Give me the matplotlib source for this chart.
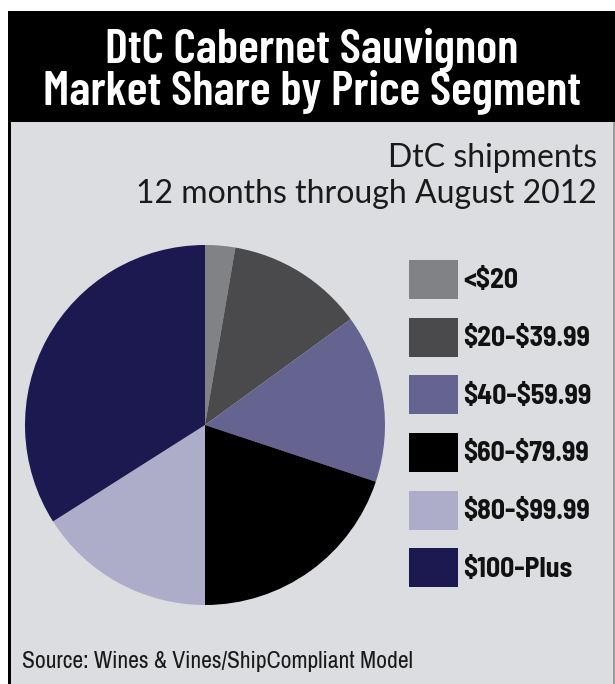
import matplotlib
matplotlib.use('Agg')
import matplotlib.pyplot as plt
from matplotlib.patches import Rectangle

plt.rcParams['text.parse_math'] = False

# shares (percent, clockwise from 12 o'clock)
segments = ['<$20', '$20-$39.99', '$40-$59.99', '$60-$79.99', '$80-$99.99', '$100-Plus']
shares = [2.7, 12.3, 15.1, 19.9, 16.0, 34.0]
colors = ['#808285', '#4a4a4c', '#65638f', '#000000', '#adadca', '#1c1850']

title1 = 'DtC Cabernet Sauvignon'
title2 = 'Market Share by Price Segment'
sub1 = 'DtC shipments'
sub2 = '12 months through August 2012'
source = 'Source: Wines & Vines/ShipCompliant Model'

cond = ['Barlow Condensed', 'Archivo Narrow', 'DejaVu Sans']
semi = ['Barlow Semi Condensed', 'Barlow Condensed', 'DejaVu Sans']
narrow = ['Archivo Narrow', 'Barlow Semi Condensed', 'DejaVu Sans']
W, H = 615, 684
fig = plt.figure(figsize=(W / 100, H / 100), dpi=100)
fig.patch.set_facecolor('white')

# background frame in pixel coords
bg = fig.add_axes([0, 0, 1, 1])
bg.set_xlim(0, W)
bg.set_ylim(H, 0)
bg.axis('off')
bg.add_patch(Rectangle((8, 11), W - 8, H - 11, facecolor='black', edgecolor='none'))
bg.add_patch(Rectangle((11, 122), 602, H - 122, facecolor='#dcdde0', edgecolor='none'))
bg.add_patch(Rectangle((613, 122), 2, H - 122, facecolor='#9a9a9a', edgecolor='none'))

bg.text(312, 62, title1, color='white', fontsize=35, fontweight=600,
        family=cond, ha='center', va='baseline')
bg.text(312, 104, title2, color='white', fontsize=35, fontweight=600,
        family=cond, ha='center', va='baseline')
bg.text(597, 167, sub1, color='#1a1a1a', fontsize=23,
        family=['Lato', 'DejaVu Sans'], ha='right', va='baseline')
bg.text(597, 203, sub2, color='#1a1a1a', fontsize=23,
        family=['Lato', 'DejaVu Sans'], ha='right', va='baseline')
bg.text(22, 668, source, color='#1a1a1a', fontsize=17, family=narrow, va='baseline')

# pie
cx, cy, r = 205, 425, 180
ax = fig.add_axes([(cx - r) / W, (H - cy - r) / H, 2 * r / W, 2 * r / H])
wedges, _ = ax.pie(shares, colors=colors, startangle=90, counterclock=False,
                   wedgeprops=dict(linewidth=0))
ax.set_xlim(-1, 1)
ax.set_ylim(-1, 1)
ax.set_aspect('equal')
ax.axis('off')

leg = fig.legend(wedges, segments, loc='upper left',
                 bbox_to_anchor=(409 / W, 1 - 260 / H), frameon=False,
                 prop=dict(family=semi, weight='bold', size=20),
                 handlelength=1.76, handleheight=1.785, labelspacing=0.67,
                 handletextpad=0.18, borderpad=0, borderaxespad=0)
for t in leg.get_texts():
    t.set_color('#111111')

fig.savefig('out.png', dpi=100, facecolor='white')
